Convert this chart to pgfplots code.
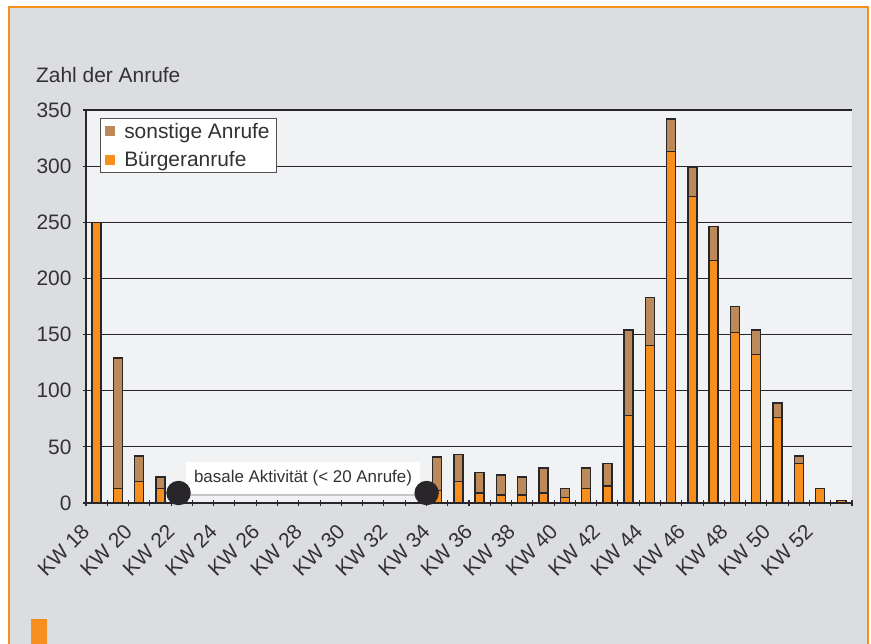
\documentclass[border=0pt]{standalone}
\usepackage{fontspec}
\setmainfont{Liberation Sans}
\usepackage{pgfplots}
\pgfplotsset{compat=1.18}

\definecolor{framebg}{RGB}{220,221,223}
\definecolor{plotbg}{RGB}{241,242,244}
\definecolor{frameorange}{RGB}{247,143,30}
\definecolor{barorange}{RGB}{247,143,30}
\definecolor{barbrown}{RGB}{187,137,90}
\definecolor{dark}{RGB}{40,38,40}
\definecolor{txt}{RGB}{50,50,52}

\newcommand{\bigfont}{\fontsize{21}{24}\selectfont}

\begin{document}
\begin{tikzpicture}
\useasboundingbox (0bp,0bp) rectangle (871bp,644bp);
\fill[white] (0bp,0bp) rectangle (871bp,644bp);
\fill[framebg] (9bp,-5bp) rectangle (868bp,637bp);
\draw[frameorange, line width=2.2bp] (9bp,-5bp) -- (9bp,637bp) -- (868bp,637bp) -- (868bp,-5bp);
\fill[frameorange] (31bp,0bp) rectangle (47bp,25bp);
\node[anchor=base west, inner sep=0pt, text=txt, font=\bigfont] at (36bp,561bp) {Zahl der Anrufe};

\begin{axis}[
    at={(86bp,141bp)}, anchor=south west,
    width=766bp, height=393bp, scale only axis,
    ybar stacked,
    bar width=9bp,
    xmin=-0.5, xmax=35.5,
    ymin=0, ymax=350,
    ytick={0,50,...,350},
    xtick={0,2,...,34},
    xticklabels={KW 18,KW 20,KW 22,KW 24,KW 26,KW 28,KW 30,KW 32,KW 34,KW 36,KW 38,KW 40,KW 42,KW 44,KW 46,KW 48,KW 50,KW 52},
    minor xtick={-0.5,0.5,...,35.5},
    major x tick style={draw=none},
    tick align=outside,
    major tick length=6bp,
    minor tick length=6bp,
    tick style={dark, line width=1.1bp},
    axis lines=left,
    axis line style={-, dark, line width=1.2bp},
    ymajorgrids,
    grid style={dark, line width=1.1bp},
    axis background/.style={fill=plotbg},
    /pgf/number format/assume math mode=true,
    ticklabel style={font=\bigfont, text=txt},
    xticklabel style={rotate=45, anchor=north east, xshift=-20bp, yshift=3bp},
    yticklabel style={xshift=-8bp},
    reverse legend,
    legend style={at={(0.018,0.98)}, anchor=north west, draw=dark!80, line width=1bp, fill=white,
        font=\bigfont, text=txt, inner xsep=5bp, inner ysep=2.5bp, row sep=8bp,
        cells={anchor=west}},
    legend image code/.code={\path[#1,draw=none] (0bp,-5bp) rectangle (10bp,5bp);
        \path[draw=none,fill=none] (0bp,0bp) -- (17bp,0bp);},
    every axis plot/.append style={draw=dark, line width=1.4bp},
]
\addplot[fill=barorange] coordinates {
 (0,250) (1,13) (2,19) (3,13)
 (16,11) (17,19) (18,9) (19,7) (20,7) (21,9) (22,5) (23,13) (24,15)
 (25,78) (26,140) (27,313) (28,273) (29,216) (30,152) (31,132) (32,76)
 (33,35) (34,13) (35,2)
};
\addlegendentry{Bürgeranrufe}
\addplot[fill=barbrown] coordinates {
 (0,0) (1,116) (2,23) (3,10)
 (16,30) (17,24) (18,18) (19,18) (20,16) (21,22) (22,8) (23,18) (24,20)
 (25,76) (26,43) (27,29) (28,26) (29,30) (30,23) (31,22) (32,13)
 (33,7) (34,0) (35,0)
};
\addlegendentry{sonstige Anrufe}
\draw[gray!60, line width=1bp] (rel axis cs:1,0) -- (rel axis cs:1,1);
\draw[gray!45, line width=1.5bp] (axis cs:4.22,7.3) -- (axis cs:15.2,7.3);
\node[fill=white, text=txt, inner sep=0pt, minimum width=234bp, minimum height=32bp,
      font=\fontsize{17}{20}\selectfont] at (axis cs:9.7,22.5) {basale Aktivität (< 20 Anrufe)};
\addplot[ybar=0pt, only marks, mark=*, mark size=11.5bp, draw=dark, fill=dark, forget plot,
         stack plots=false] coordinates {(3.85,8.9) (15.51,8.9)};
\end{axis}
\end{tikzpicture}
\end{document}
